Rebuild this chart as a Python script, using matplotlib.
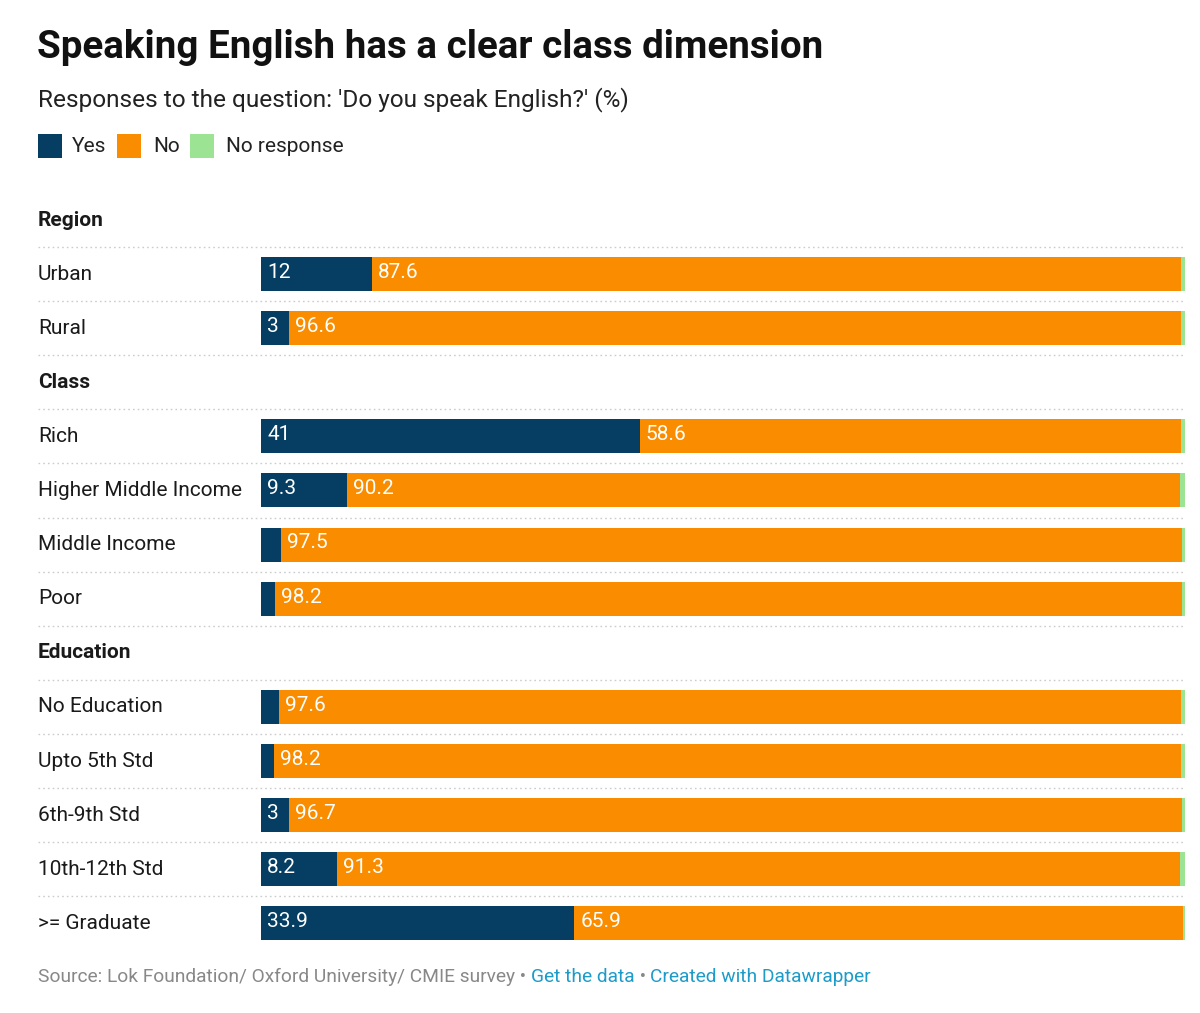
import matplotlib
matplotlib.use("Agg")
import matplotlib.pyplot as plt
from matplotlib.transforms import blended_transform_factory
from matplotlib.patches import Rectangle

# ---- data ----
groups = ["Region", "Class", "Education"]
group_members = [
    ["Urban", "Rural"],
    ["Rich", "Higher Middle Income", "Middle Income", "Poor"],
    ["No Education", "Upto 5th Std", "6th-9th Std", "10th-12th Std", ">= Graduate"],
]
categories = ["Urban", "Rural", "Rich", "Higher Middle Income", "Middle Income", "Poor",
              "No Education", "Upto 5th Std", "6th-9th Std", "10th-12th Std", ">= Graduate"]
yes_vals = [12, 3, 41, 9.3, 2.2, 1.5, 2.0, 1.4, 3, 8.2, 33.9]
no_vals = [87.6, 96.6, 58.6, 90.2, 97.5, 98.2, 97.6, 98.2, 96.7, 91.3, 65.9]
noresp_vals = [0.4, 0.4, 0.4, 0.5, 0.3, 0.3, 0.4, 0.4, 0.3, 0.5, 0.2]
series_names = ["Yes", "No", "No response"]

# ---- style ----
C_YES = "#063e63"
C_NO = "#fa8c00"
C_NR = "#9de394"
colors = [C_YES, C_NO, C_NR]
FONT = "Roboto"
W, H = 1200, 1013

fig = plt.figure(figsize=(W / 100, H / 100), dpi=100)
fig.patch.set_facecolor("white")

def fx(x):
    return x / W

def fy(y):
    return 1 - y / H

slots = []
for g, members in zip(groups, group_members):
    slots.append(("header", g, None))
    for m in members:
        slots.append(("row", m, categories.index(m)))
n_slots = len(slots)

slot_top_px = 220
slot_h_px = 54.1
ax_top = slot_top_px - slot_h_px / 2
ax_bot = slot_top_px + (n_slots - 1) * slot_h_px + slot_h_px / 2
bar_left, bar_right = 261, 1185
ax = fig.add_axes([fx(bar_left), fy(ax_bot), (bar_right - bar_left) / W, (ax_bot - ax_top) / H])
ax.set_xlim(0, 100)
ax.set_ylim(n_slots - 0.5, -0.5)
ax.axis("off")

bar_h = 34 / slot_h_px
trans = blended_transform_factory(fig.transFigure, ax.transData)

LABEL_FS = 15
for si, (kind, label, di) in enumerate(slots):
    if kind == "header":
        ax.text(fx(38), si, label, transform=trans, fontsize=LABEL_FS, fontweight="bold",
                family=FONT, color="#1a1a1a", va="center", ha="left")
    else:
        ax.text(fx(38), si, label, transform=trans, fontsize=LABEL_FS,
                family=FONT, color="#1a1a1a", va="center", ha="left")
        vals = [yes_vals[di], no_vals[di], noresp_vals[di]]
        left = 0
        for k, (v, c) in enumerate(zip(vals, colors)):
            ax.barh(si, v, left=left, height=bar_h, color=c, edgecolor="none")
            if k < 2 and v >= 2.5:
                ax.text(left + 0.65, si - 0.03, f"{v:g}", color="white", fontsize=LABEL_FS,
                        family=FONT, va="center", ha="left")
            left += v
    if si > 0:
        ax.plot([fx(38), fx(1185)], [si - 0.5, si - 0.5], transform=trans, color="#cccccc",
                lw=1, ls=(0, (1.2, 2.2)), clip_on=False)

# ---- title, subtitle ----
fig.text(fx(37), fy(48), "Speaking English has a clear class dimension", fontsize=27.7,
         fontweight="bold", family=FONT, color="#111111", va="center", ha="left")
fig.text(fx(38), fy(100), "Responses to the question: 'Do you speak English?' (%)", fontsize=17.6,
         family=FONT, color="#222222", va="center", ha="left")

# ---- legend ----
leg_sq_x = [38, 117, 190]
leg_tx_x = [72, 153, 226]
for name, c, sx, tx in zip(series_names, colors, leg_sq_x, leg_tx_x):
    fig.patches.append(Rectangle((fx(sx), fy(158)), 24 / W, 24 / H, transform=fig.transFigure,
                                 facecolor=c, edgecolor="none"))
    fig.text(fx(tx), fy(146), name, fontsize=15, family=FONT, color="#222222",
             va="center", ha="left")

# ---- footer ----
FOOT_FS = 13.75
FOOT_Y = 977
src = fig.text(fx(38), fy(FOOT_Y), "Source: Lok Foundation/ Oxford University/ CMIE survey \u2022 ",
               fontsize=FOOT_FS, family=FONT, color="#888888", va="center", ha="left")
fig.canvas.draw()
bb = src.get_window_extent()
t2 = fig.text(bb.x1 / W, fy(FOOT_Y), "Get the data", fontsize=FOOT_FS, family=FONT, color="#1d9bc9",
              va="center", ha="left")
fig.canvas.draw()
bb2 = t2.get_window_extent()
t3 = fig.text(bb2.x1 / W, fy(FOOT_Y), " \u2022 ", fontsize=FOOT_FS, family=FONT, color="#888888",
              va="center", ha="left")
fig.canvas.draw()
bb3 = t3.get_window_extent()
fig.text(bb3.x1 / W, fy(FOOT_Y), "Created with Datawrapper", fontsize=FOOT_FS, family=FONT,
         color="#1d9bc9", va="center", ha="left")

fig.savefig("out.png", dpi=100, facecolor="white")
